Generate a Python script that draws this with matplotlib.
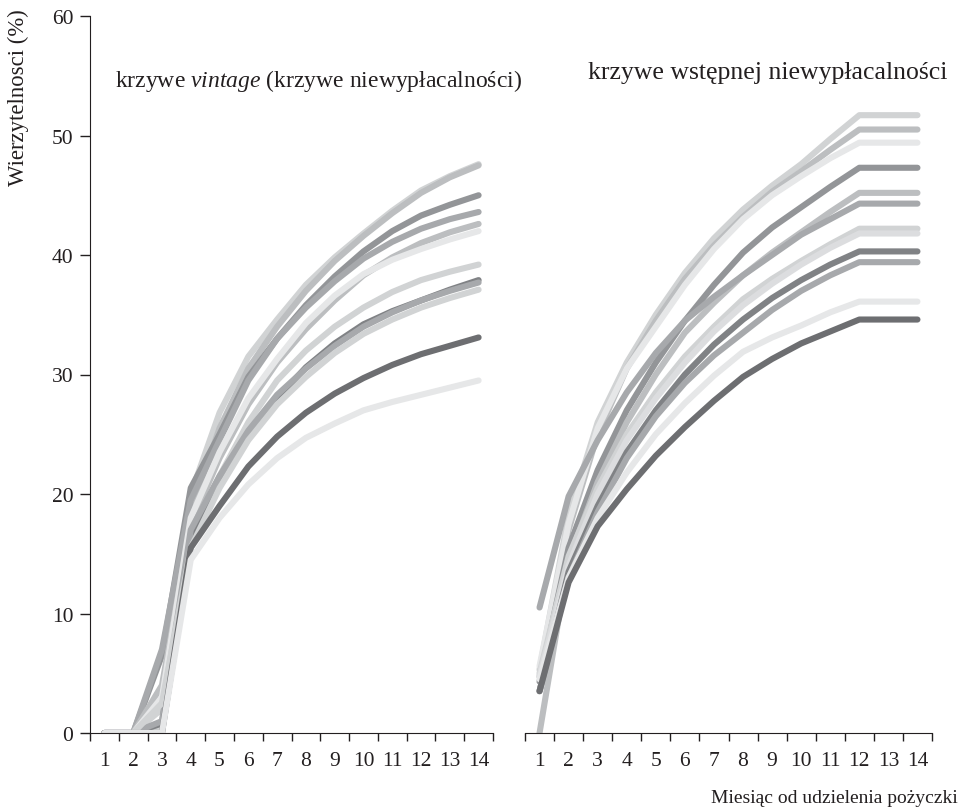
import matplotlib.pyplot as plt
import numpy as np

plt.rcParams['font.family'] = ['Liberation Serif', 'DejaVu Serif']
plt.rcParams['mathtext.fontset'] = 'custom'
plt.rcParams['mathtext.rm'] = 'Liberation Serif'
plt.rcParams['mathtext.it'] = 'Liberation Serif:italic'

MONTHS = list(range(1, 15))
TICK_LABELS = [str(m) for m in MONTHS]

# krzywe vintage (lewy panel), miesiace 1..14
vintage_curves = [
    [0, 0, 0.5, 20.0, 26.8, 31.5, 34.6, 37.5, 39.8, 41.8, 43.7, 45.4, 46.6, 47.6],
    [0, 0, 0.0, 18.5, 25.5, 30.5, 34.0, 37.0, 39.5, 41.6, 43.5, 45.2, 46.5, 47.5],
    [0, 0, 6.5, 20.5, 25.0, 29.8, 33.0, 35.8, 38.2, 40.3, 42.0, 43.3, 44.2, 45.0],
    [0, 0, 7.0, 19.5, 24.5, 29.5, 33.0, 35.6, 37.8, 39.7, 41.1, 42.2, 43.0, 43.6],
    [0, 0, 4.0, 17.5, 23.0, 27.5, 31.0, 33.8, 36.2, 38.3, 39.8, 41.0, 41.9, 42.6],
    [0, 0, 3.0, 18.0, 23.5, 28.0, 31.3, 34.3, 36.6, 38.4, 39.6, 40.5, 41.3, 42.0],
    [0, 0, 2.0, 16.5, 21.5, 26.0, 29.5, 32.0, 34.0, 35.6, 36.9, 37.9, 38.6, 39.2],
    [0, 0, 0.8, 16.0, 21.0, 25.0, 28.0, 30.6, 32.6, 34.2, 35.3, 36.2, 37.1, 37.9],
    [0, 0, 1.0, 17.0, 21.5, 25.3, 28.3, 30.5, 32.4, 34.0, 35.2, 36.2, 37.0, 37.7],
    [0, 0, 2.5, 15.5, 20.5, 24.5, 27.5, 29.8, 31.8, 33.4, 34.6, 35.6, 36.4, 37.1],
    [0, 0, 0.0, 15.5, 19.0, 22.3, 24.8, 26.8, 28.4, 29.7, 30.8, 31.7, 32.4, 33.1],
    [0, 0, 0.0, 14.5, 18.0, 20.8, 23.0, 24.7, 25.9, 27.0, 27.7, 28.3, 28.9, 29.5],
]
vintage_colors = ['#d1d3d4', '#bcbec0', '#939598', '#a7a9ac', '#bcbec0', '#e6e7e8',
                  '#d1d3d4', '#808285', '#a7a9ac', '#d1d3d4', '#6d6e71', '#e6e7e8']

# krzywe wstepnej niewyplacalnosci (prawy panel), miesiace 1..14
initial_curves = [
    [5.3, 18.2, 26.0, 31.0, 35.0, 38.5, 41.4, 43.8, 45.8, 47.6, 49.7, 51.7, 51.7, 51.7],
    [4.7, 17.0, 25.0, 30.5, 34.5, 38.0, 40.8, 43.2, 45.3, 47.0, 48.8, 50.5, 50.5, 50.5],
    [5.6, 17.5, 25.5, 30.5, 34.0, 37.5, 40.5, 43.0, 45.0, 46.6, 48.1, 49.4, 49.4, 49.4],
    [4.3, 15.5, 22.0, 27.0, 31.0, 34.5, 37.5, 40.2, 42.3, 44.0, 45.7, 47.3, 47.3, 47.3],
    [0.0, 14.5, 21.0, 26.0, 30.0, 33.5, 36.0, 38.3, 40.2, 41.9, 43.6, 45.2, 45.2, 45.2],
    [10.5, 19.8, 24.5, 28.5, 31.8, 34.5, 36.5, 38.3, 40.0, 41.7, 43.0, 44.3, 44.3, 44.3],
    [5.0, 14.8, 20.5, 25.0, 28.5, 31.5, 34.0, 36.3, 38.0, 39.5, 40.9, 42.2, 42.2, 42.2],
    [4.8, 14.0, 20.0, 24.5, 28.0, 31.0, 33.6, 35.8, 37.6, 39.2, 40.6, 41.8, 41.8, 41.8],
    [3.5, 13.5, 19.0, 23.5, 27.0, 30.0, 32.5, 34.6, 36.4, 37.9, 39.2, 40.3, 40.3, 40.3],
    [3.5, 13.0, 18.5, 23.0, 26.5, 29.3, 31.6, 33.5, 35.4, 37.0, 38.3, 39.4, 39.4, 39.4],
    [4.5, 13.0, 18.0, 21.8, 25.0, 27.6, 29.9, 31.9, 33.1, 34.1, 35.2, 36.1, 36.1, 36.1],
    [3.5, 12.6, 17.3, 20.4, 23.2, 25.6, 27.8, 29.8, 31.3, 32.6, 33.6, 34.6, 34.6, 34.6],
]
initial_colors = ['#d1d3d4', '#bcbec0', '#e6e7e8', '#939598', '#bcbec0', '#a7a9ac',
                  '#d1d3d4', '#dcdddf', '#808285', '#a7a9ac', '#e6e7e8', '#6d6e71']

INK = '#231f20'

fig = plt.figure(figsize=(9.6, 8.12), dpi=100)
ax1 = fig.add_axes([90 / 960, 78 / 812, 403 / 960, 717 / 812])
ax2 = fig.add_axes([525 / 960, 78 / 812, 407 / 960, 717 / 812])

for ax, curves, colors in [(ax1, vintage_curves, vintage_colors),
                           (ax2, initial_curves, initial_colors)]:
    for vals, c in zip(curves, colors):
        ax.plot(MONTHS, vals, color=c, lw=4.4, solid_capstyle='round',
                solid_joinstyle='round')
    ax.set_xlim(0.5, 14.5)
    ax.set_ylim(0, 60)
    ax.set_xticks(np.arange(0.5, 15, 1))
    ax.set_xticklabels([])
    ax.set_xticks(MONTHS, minor=True)
    ax.set_xticklabels(TICK_LABELS, minor=True)
    ax.tick_params(axis='x', which='major', length=6, width=1, color=INK, direction='out')
    ax.tick_params(axis='x', which='minor', length=0, labelsize=15.5, labelcolor=INK, pad=13)
    for s in ['top', 'right']:
        ax.spines[s].set_visible(False)
    ax.spines['bottom'].set_color(INK)
    ax.spines['left'].set_color(INK)

ax1.set_yticks(range(0, 61, 10))
ax1.tick_params(axis='y', length=7, width=1, color=INK, labelsize=15.5, labelcolor=INK, pad=5)
ax2.spines['left'].set_visible(False)
ax2.set_yticks([])

fig.text(18 / 960, 1 - 98 / 812, 'Wierzytelnosci (%)', rotation=90, ha='center', va='center',
         fontsize=16.4, color=INK)
fig.text(958 / 960, 1 - 799 / 812, 'Miesiąc od udzielenia pożyczki', ha='right', va='center',
         fontsize=14, color=INK)
fig.text(115 / 960, 1 - 81 / 812, r'krzywe $vintage$ (krzywe niewypłacalności)',
         ha='left', va='center', fontsize=17, color=INK)
fig.text(588 / 960, 1 - 73 / 812, 'krzywe wstępnej niewypłacalności', ha='left', va='center',
         fontsize=18.5, color=INK)

fig.savefig('out.png', dpi=100)
